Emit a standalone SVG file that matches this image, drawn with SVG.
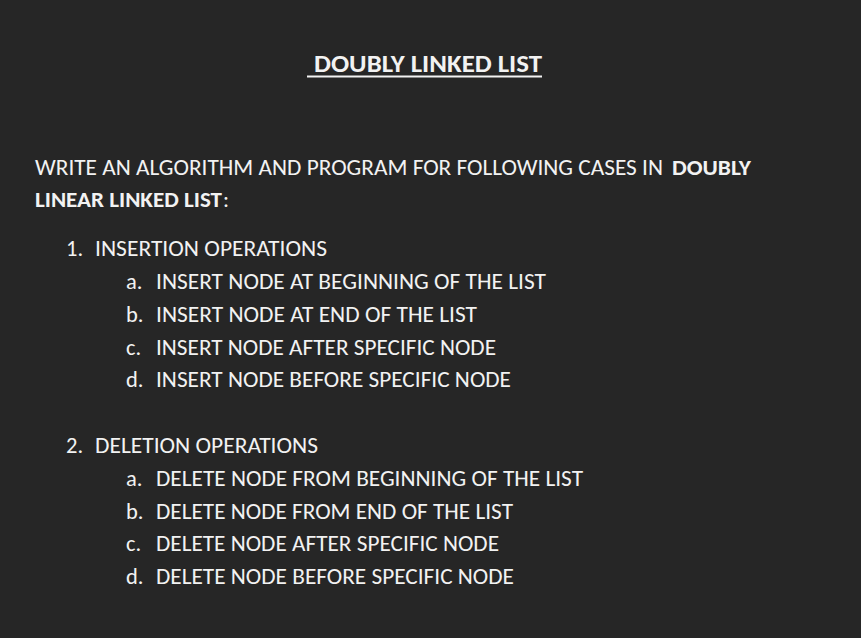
<svg xmlns="http://www.w3.org/2000/svg" width="861" height="638" viewBox="0 0 861 638">
<style>
text{font-family:Carlito,Lato,"Open Sans",sans-serif;fill:#f2f2f2;font-size:22.5px}
.b{font-weight:bold}
.t{font-size:25px;font-weight:bold}
</style>
<rect x="0" y="0" width="861" height="638" fill="#262626"/>
<g id="title">
<text class="t" x="314" y="72" textLength="228" lengthAdjust="spacingAndGlyphs">DOUBLY LINKED LIST</text>
<rect x="307" y="75.5" width="235" height="2" fill="#f2f2f2"/>
</g>
<g id="intro">
<text x="35" y="175" textLength="628" lengthAdjust="spacingAndGlyphs">WRITE AN ALGORITHM AND PROGRAM FOR FOLLOWING CASES IN</text>
<text class="b" x="672" y="175" textLength="79" lengthAdjust="spacingAndGlyphs">DOUBLY</text>
<text class="b" x="35" y="207" textLength="187" lengthAdjust="spacingAndGlyphs">LINEAR LINKED LIST</text>
<text x="223" y="207">:</text>
</g>
<g id="insertion">
<text x="66" y="256">1.</text>
<text x="95" y="256" textLength="232" lengthAdjust="spacingAndGlyphs">INSERTION OPERATIONS</text>
<text x="126" y="289">a.</text>
<text x="156" y="289" textLength="390" lengthAdjust="spacingAndGlyphs">INSERT NODE AT BEGINNING OF THE LIST</text>
<text x="126" y="322">b.</text>
<text x="156" y="322" textLength="321" lengthAdjust="spacingAndGlyphs">INSERT NODE AT END OF THE LIST</text>
<text x="126" y="355">c.</text>
<text x="156" y="355" textLength="340" lengthAdjust="spacingAndGlyphs">INSERT NODE AFTER SPECIFIC NODE</text>
<text x="126" y="387">d.</text>
<text x="156" y="387" textLength="355" lengthAdjust="spacingAndGlyphs">INSERT NODE BEFORE SPECIFIC NODE</text>
</g>
<g id="deletion">
<text x="66" y="453">2.</text>
<text x="95" y="453" textLength="223" lengthAdjust="spacingAndGlyphs">DELETION OPERATIONS</text>
<text x="126" y="486">a.</text>
<text x="156" y="486" textLength="427" lengthAdjust="spacingAndGlyphs">DELETE NODE FROM BEGINNING OF THE LIST</text>
<text x="126" y="519">b.</text>
<text x="156" y="519" textLength="357" lengthAdjust="spacingAndGlyphs">DELETE NODE FROM END OF THE LIST</text>
<text x="126" y="551">c.</text>
<text x="156" y="551" textLength="343" lengthAdjust="spacingAndGlyphs">DELETE NODE AFTER SPECIFIC NODE</text>
<text x="126" y="584">d.</text>
<text x="156" y="584" textLength="358" lengthAdjust="spacingAndGlyphs">DELETE NODE BEFORE SPECIFIC NODE</text>
</g>
</svg>
